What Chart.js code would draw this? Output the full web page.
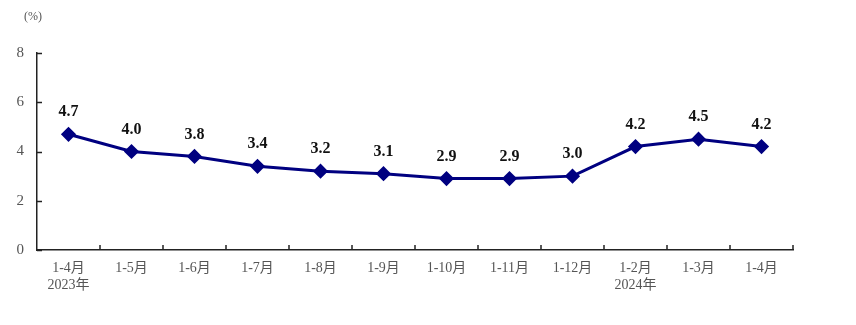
<!DOCTYPE html>
<html><head><meta charset="utf-8">
<script src="https://cdn.jsdelivr.net/npm/chart.js@4"></script>
<style>html,body{margin:0;padding:0;background:#fff}#w{width:856px;height:325px}</style>
</head><body><div id="w"><canvas id="c"></canvas></div>
<script>
const categories = [['1-4月','2023年'],'1-5月','1-6月','1-7月','1-8月','1-9月','1-10月','1-11月','1-12月',['1-2月','2024年'],'1-3月','1-4月'];
const values = [4.7,4.0,3.8,3.4,3.2,3.1,2.9,2.9,3.0,4.2,4.5,4.2];
const yTicks = [0,2,4,6,8];
const unitLabel = '(%)';
const FONT = '"Liberation Serif","Noto Sans CJK SC",serif';

const decor = {
  id:'decor',
  afterDatasetsDraw(chart){
    const ctx = chart.ctx, x = chart.scales.x, y = chart.scales.y, a = chart.chartArea;
    ctx.save();
    ctx.strokeStyle = '#222'; ctx.lineWidth = 1.5;
    yTicks.forEach(v=>{ const py = Math.round(y.getPixelForValue(v))+0.5;
      ctx.beginPath(); ctx.moveTo(a.left, py); ctx.lineTo(a.left+5, py); ctx.stroke(); });
    const step = x.getPixelForValue(1) - x.getPixelForValue(0);
    for(let i=0;i<categories.length;i++){
      const bx = Math.round(x.getPixelForValue(i) + step/2);
      ctx.beginPath(); ctx.moveTo(bx, a.bottom); ctx.lineTo(bx, a.bottom-5); ctx.stroke();
    }
    const meta = chart.getDatasetMeta(0);
    ctx.fillStyle = '#111'; ctx.font = 'bold 16px '+FONT; ctx.textAlign='center'; ctx.textBaseline='bottom';
    meta.data.forEach((p,i)=>{ ctx.fillText(values[i].toFixed(1), p.x, p.y-14); });
    ctx.fillStyle = '#555'; ctx.font = '12px '+FONT; ctx.textAlign='center'; ctx.textBaseline='middle';
    ctx.fillText(unitLabel, 33, 17);
    ctx.restore();
  }
};

new Chart(document.getElementById('c'), {
  type:'line',
  data:{ labels: categories, datasets:[{ data: values, borderColor:'#000080', backgroundColor:'#000080',
    borderWidth:3, pointStyle:'rectRot', pointRadius:5.5, pointHoverRadius:5.5, tension:0 }]},
  options:{
    responsive:true, maintainAspectRatio:false, animation:false,
    layout:{ padding:{ left:0, right:63, top:53, bottom:0 } },
    plugins:{ legend:{display:false}, tooltip:{enabled:false} },
    scales:{
      x:{ offset:true, grid:{ display:false, drawTicks:false },
        border:{ display:true, color:'#222', width:1.5 },
        ticks:{ color:'#555', font:{ family:FONT, size:14 }, padding:10, maxRotation:0, autoSkip:false },
        afterFit(s){ s.height = 75; } },
      y:{ min:0, max:8, afterBuildTicks(s){ s.ticks = yTicks.map(v=>({value:v})); },
        grid:{ display:false, drawTicks:false },
        border:{ display:true, color:'#222', width:1.5 },
        ticks:{ color:'#555', font:{ family:FONT, size:15 }, padding:13 },
        afterFit(s){ s.width = 37; } }
    }
  },
  plugins:[decor]
});
</script></body></html>
